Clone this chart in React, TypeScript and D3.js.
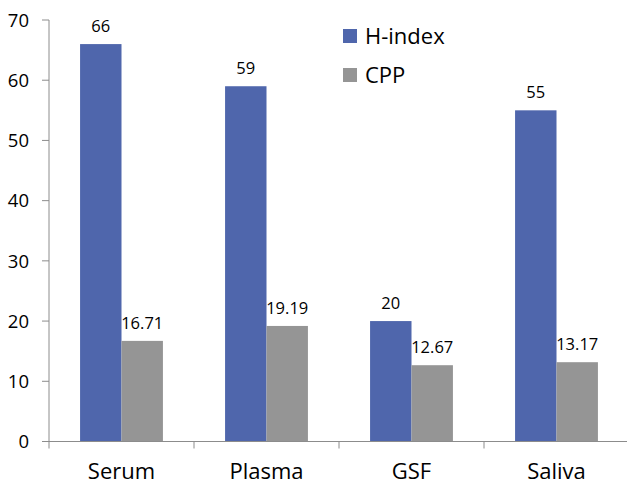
import { useRef, useEffect } from 'react';
import * as d3 from 'd3';

const categories = ['Serum', 'Plasma', 'GSF', 'Saliva'];
const seriesNames = ['H-index', 'CPP'];
const hIndex = [66, 59, 20, 55];
const cpp = [16.71, 19.19, 12.67, 13.17];
const cppLabels = ['16.71', '19.19', '12.67', '13.17'];
const yTicks = [0, 10, 20, 30, 40, 50, 60, 70];

const colors: Record<string, string> = { 'H-index': '#4F66AC', CPP: '#959595' };
const font = "'Open Sans', 'Noto Sans', sans-serif";

export default function App() {
  const svgRef = useRef<SVGSVGElement>(null);

  useEffect(() => {
    const svg = d3.select(svgRef.current);
    svg.selectAll('*').remove();

    const width = 627;
    const height = 486;
    const left = 49;
    const top = 20;
    const bottom = 441.5;

    svg.append('rect').attr('width', width).attr('height', height).attr('fill', '#fff');

    const x0 = d3.scaleBand<string>().domain(categories).range([left, 629]).padding(0);
    const x1 = d3
      .scaleBand<string>()
      .domain(seriesNames)
      .range([0, x0.bandwidth()])
      .paddingInner(0)
      .paddingOuter(0.75);
    const y = d3.scaleLinear().domain([0, 70]).range([bottom, top]);

    // y axis
    svg.append('line')
      .attr('x1', left).attr('x2', left)
      .attr('y1', y(70)).attr('y2', bottom)
      .attr('stroke', '#8c8c8c').attr('stroke-width', 1);

    for (const t of yTicks) {
      svg.append('line')
        .attr('x1', left - 7).attr('x2', left)
        .attr('y1', y(t)).attr('y2', y(t))
        .attr('stroke', '#8c8c8c');
      svg.append('text')
        .attr('x', 29).attr('y', y(t))
        .attr('dy', '0.36em')
        .attr('text-anchor', 'end')
        .attr('font-family', font)
        .attr('font-size', '18.5px')
        .attr('fill', '#000')
        .text(t);
    }

    // bars
    const rows = categories.map((c, i) => ({ c, vals: [hIndex[i], cpp[i]], labels: [String(hIndex[i]), cppLabels[i]] }));
    rows.forEach((r) => {
      seriesNames.forEach((s, j) => {
        const bx = (x0(r.c) ?? 0) + (x1(s) ?? 0);
        svg.append('rect')
          .attr('x', bx)
          .attr('y', y(r.vals[j]))
          .attr('width', x1.bandwidth())
          .attr('height', bottom - y(r.vals[j]))
          .attr('fill', colors[s]);
        svg.append('text')
          .attr('x', bx + x1.bandwidth() / 2)
          .attr('y', y(r.vals[j]) - 12)
          .attr('text-anchor', 'middle')
          .attr('font-family', font)
          .attr('font-size', '16.5px')
          .attr('fill', '#000')
          .text(r.labels[j]);
      });
    });

    // x axis
    svg.append('line')
      .attr('x1', left).attr('x2', width)
      .attr('y1', bottom).attr('y2', bottom)
      .attr('stroke', '#8c8c8c');

    const bounds = categories.map((c) => x0(c) ?? 0);
    for (const b of bounds) {
      svg.append('line')
        .attr('x1', b).attr('x2', b)
        .attr('y1', bottom).attr('y2', bottom + 7)
        .attr('stroke', '#8c8c8c');
    }

    categories.forEach((c) => {
      svg.append('text')
        .attr('x', (x0(c) ?? 0) + x0.bandwidth() / 2)
        .attr('y', 479)
        .attr('text-anchor', 'middle')
        .attr('font-family', font)
        .attr('font-size', '22px')
        .attr('fill', '#000')
        .text(c);
    });

    // legend
    seriesNames.forEach((s, i) => {
      const ly = 29 + i * 39;
      svg.append('rect')
        .attr('x', 343).attr('y', ly)
        .attr('width', 14).attr('height', 14)
        .attr('fill', colors[s]);
      svg.append('text')
        .attr('x', 365).attr('y', ly + 15)
        .attr('font-family', font)
        .attr('font-size', '22px')
        .attr('fill', '#000')
        .text(s);
    });
  }, []);

  return (
    <svg
      ref={svgRef}
      width={627}
      height={486}
      style={{ position: 'absolute', left: 0, top: 0, display: 'block' }}
    />
  );
}
